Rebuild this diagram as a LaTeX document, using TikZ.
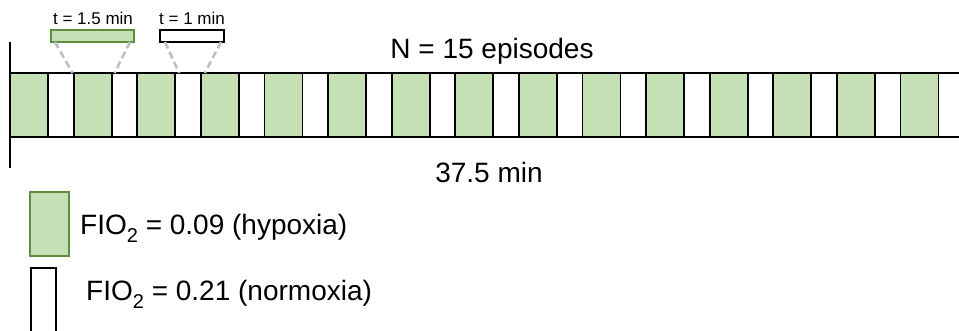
\documentclass[tikz,border=0pt]{standalone}
\usepackage{fontspec}
\setmainfont{Liberation Sans}
\definecolor{gfill}{HTML}{C5E0B4}
\definecolor{gdraw}{HTML}{5E8E3E}
\definecolor{dashgray}{HTML}{BFBFBF}
\newcommand{\subtwo}{\raisebox{-8pt}{\fontsize{20}{20}\selectfont 2}}
\begin{document}
\begin{tikzpicture}[x=1pt,y=-1pt,
  cell/.style={draw=black, line width=1.8pt, minimum height=64pt, inner sep=0pt, outer sep=0pt, anchor=north west},
  hyp/.style={cell, fill=gfill, minimum width=38pt},
  nor/.style={cell, fill=white, minimum width=25.6pt},
  lbl/.style={font=\fontsize{28}{32}\selectfont, inner sep=0pt},
  small/.style={font=\fontsize{17}{20}\selectfont, inner sep=0pt},
  zoombox/.style={line width=1.6pt, minimum height=12pt, inner sep=0pt, outer sep=0pt, anchor=north west},
  legbox/.style={line width=1.6pt, inner sep=0pt, outer sep=0pt, anchor=north west},
  guide/.style={draw=dashgray, line width=2.6pt, dash pattern=on 7pt off 4pt}
]
\useasboundingbox (0,0) rectangle (959,330);
\begin{scope}
\clip (0,0) rectangle (959,330);
% zoom boxes and labels
\node[zoombox, draw=gdraw, fill=gfill, minimum width=83pt] (zg) at (51,30) {};
\node[zoombox, draw=black, fill=white, minimum width=64pt] (zw) at (160,30) {};
\node[small, anchor=base] (tg) at (93,24) {t = 1.5 min};
\node[small, anchor=base] (tw) at (192,24) {t = 1 min};
% bar
\foreach \i in {0,...,14} {
  \node[hyp] (g\i) at ({10+63.6*\i},73) {};
  \node[nor] (w\i) at (g\i.north east) {};
}
% guides
\draw[guide] ([xshift=4pt]zg.south west) -- ([xshift=-1pt]g1.north west);
\draw[guide] ([xshift=-4pt]zg.south east) -- ([xshift=3pt]g1.north east);
\draw[guide] ([xshift=5pt]zw.south west) -- ([xshift=4pt]w2.north west);
\draw[guide] ([xshift=-3pt]zw.south east) -- ([xshift=4pt]w2.north east);
% axis line
\coordinate (axtop) at (10,42);
\coordinate (axbot) at (10,168);
\draw[line width=2.2pt] (axtop) -- (axbot);
% texts
\node[lbl, anchor=base] (nep) at (492,58) {N = 15 episodes};
\node[lbl, anchor=base] (dur) at (489,182) {37.5 min};
% legend
\node[legbox, draw=gdraw, fill=gfill, minimum width=39pt, minimum height=64pt] (lg) at (30,192) {};
\node[lbl, anchor=base west] (lgt) at (80,234) {FIO\subtwo{} = 0.09 (hypoxia)};
\node[legbox, draw=black, fill=white, minimum width=25pt, minimum height=75pt] (lw) at (31,268) {};
\node[lbl, anchor=base west] (lwt) at (86,300) {FIO\subtwo{} = 0.21 (normoxia)};
\end{scope}
\end{tikzpicture}
\end{document}
